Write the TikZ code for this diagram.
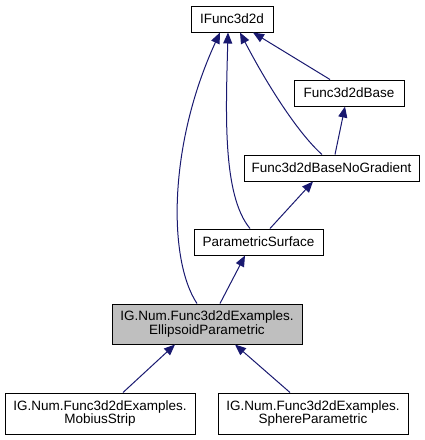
\documentclass[tikz,border=0pt]{standalone}
\usepackage{fontspec}
\setmainfont{Liberation Sans}
\usetikzlibrary{arrows.meta}
\definecolor{edgeblue}{HTML}{191970}
\definecolor{boxgray}{HTML}{BFBFBF}
\tikzset{
  cls/.style={draw=black, line width=1pt, fill=white, inner sep=0pt, align=center,
    font=\fontsize{13.5}{13.4}\selectfont, text=black},
  inh/.style={draw=edgeblue, line width=1pt,
    -{Triangle[length=11pt,width=9pt,fill=edgeblue]}},
}
\begin{document}
\begin{tikzpicture}[x=1pt,y=-1pt]
\useasboundingbox (0,0) rectangle (425,440);
\node[cls, minimum width=82pt, minimum height=26pt] (IF) at (232,19) {IFunc3d2d};
\node[cls, minimum width=110pt, minimum height=26pt] (BA) at (349,93) {Func3d2dBase};
\node[cls, minimum width=175pt, minimum height=26pt] (NG) at (331.5,168) {Func3d2dBaseNoGradient};
\node[cls, minimum width=129pt, minimum height=26pt] (PS) at (258.5,242) {ParametricSurface};
\node[cls, fill=boxgray, minimum width=190pt, minimum height=40pt] (EL) at (207,324) {IG.Num.Func3d2dExamples.\\EllipsoidParametric};
\node[cls, minimum width=190pt, minimum height=41pt] (MO) at (100,413.5) {IG.Num.Func3d2dExamples.\\MobiusStrip};
\node[cls, minimum width=190pt, minimum height=41pt] (SP) at (313,413.5) {IG.Num.Func3d2dExamples.\\SphereParametric};

\draw[inh] ([xshift=-19pt]BA.north) -- ([xshift=21pt]IF.south);
\draw[inh] ([xshift=3.5pt]NG.north) -- ([xshift=-4pt]BA.south);
\draw[inh] ([xshift=-9.5pt]NG.north) .. controls (300,135) and (270,90) .. ([xshift=8pt]IF.south);
\draw[inh] ([xshift=-8.5pt]PS.north) .. controls (222,195) and (226,110) .. ([xshift=-4pt]IF.south);
\draw[inh] ([xshift=-10pt]EL.north) .. controls (168,260) and (168,145) .. ([xshift=-12pt]IF.south);
\draw[inh] ([xshift=11.5pt]PS.north) -- ([xshift=-18.5pt]NG.south);
\draw[inh] ([xshift=13pt]EL.north) -- ([xshift=-13.5pt]PS.south);
\draw[inh] ([xshift=23pt]MO.north) -- ([xshift=-32pt]EL.south);
\draw[inh] ([xshift=-23pt]SP.north) -- ([xshift=28pt]EL.south);
\end{tikzpicture}
\end{document}
